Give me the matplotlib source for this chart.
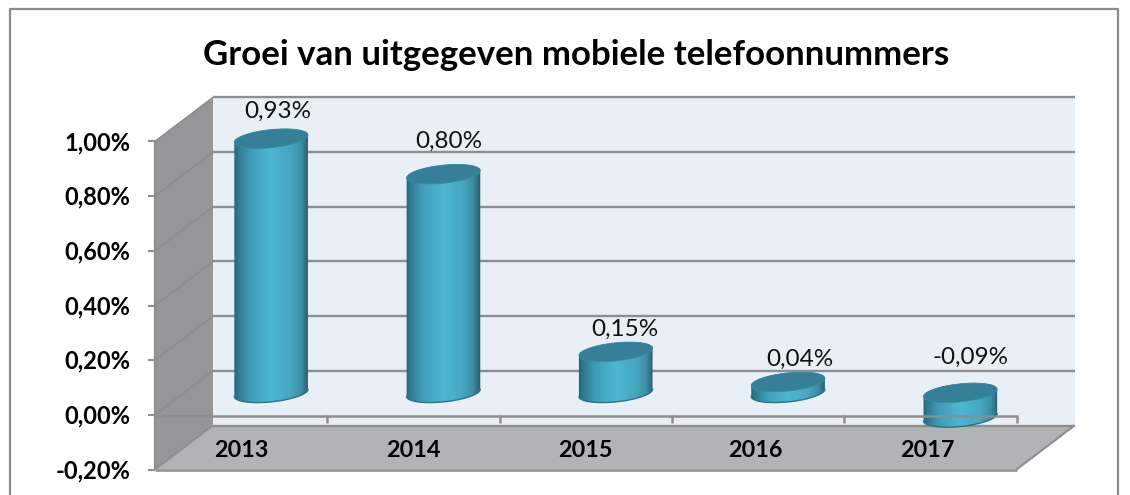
import numpy as np
import matplotlib
matplotlib.use("Agg")
import matplotlib.pyplot as plt
from matplotlib.colors import LinearSegmentedColormap
from matplotlib.patches import PathPatch, Polygon, Rectangle
from matplotlib.path import Path
from matplotlib.transforms import Affine2D, IdentityTransform

TITLE = "Groei van uitgegeven mobiele telefoonnummers"
years = ["2013", "2014", "2015", "2016", "2017"]
values = [0.93, 0.80, 0.15, 0.04, -0.09]
value_labels = ["0,93%", "0,80%", "0,15%", "0,04%", "-0,09%"]
label_lift_px = [27, 33, 22, 23, 35]
label_shift_px = [7, 5.5, 9, 12, 10]
year_shift_px = [0, 0, -0.5, -3, -3.5]
y_ticks = [-0.20, 0.00, 0.20, 0.40, 0.60, 0.80, 1.00]
y_tick_labels = ["-0,20%", "0,00%", "0,20%", "0,40%", "0,60%", "0,80%", "1,00%"]

W, H = 1130, 495
DEPTH_X, DEPTH_Y = 58, 44
LINE = "#8e8e8e"
plt.rcParams["font.family"] = ["Lato", "DejaVu Sans"]

fig = plt.figure(figsize=(W / 100, H / 100), dpi=100, facecolor="white")
L, R, T, B = 155, 1016.5, 141.5, 469.5
ax = fig.add_axes([L / W, 1 - B / H, (R - L) / W, (B - T) / H])
ax.set_xlim(0, len(years))
ax.set_ylim(-0.20, 1.00)
ax.axis("off")


def depth(d, dx=0.0):
    return ax.transData + Affine2D().translate(DEPTH_X * d + dx, DEPTH_Y * d)


n = len(years)
ymin, ymax = y_ticks[0], y_ticks[-1]
kw = dict(clip_on=False, solid_capstyle="butt")

# outer chart frame (open at the bottom edge of the picture)
fig.add_artist(plt.Line2D([9.5 / W, 9.5 / W, 1118 / W, 1118 / W],
                          [0, 1 - 8.5 / H, 1 - 8.5 / H, 0],
                          color="#8c8c8c", lw=1.6))

# walls and floor
ax.add_patch(Rectangle((0, ymin), n, ymax - ymin, transform=depth(1),
                       fc="#e8eff7", ec="none", clip_on=False, zorder=1))
side = [depth(d).transform((0, v)) for d, v in [(0, ymin), (0, ymax), (1, ymax), (1, ymin)]]
ax.add_patch(Polygon(side, transform=IdentityTransform(), fc="#949699", ec="none",
                     clip_on=False, zorder=1.1))
floor = [depth(d).transform((x, ymin)) for d, x in [(0, 0), (0, n), (1, n), (1, 0)]]
ax.add_patch(Polygon(floor, transform=IdentityTransform(), fc="#b1b4b7", ec="none",
                     clip_on=False, zorder=1.1))

# gridlines on back wall and side wall, tick marks
for v in y_ticks:
    ax.plot([0, n], [v, v], transform=depth(1), color=LINE, lw=1.7, zorder=2, **kw)
    a, b = depth(0).transform((0, v)), depth(1).transform((0, v))
    ax.plot([a[0], b[0]], [a[1], b[1]], transform=IdentityTransform(), color=LINE,
            lw=1.3, zorder=2, **kw)
    ax.plot([a[0] - 7, a[0]], [a[1], a[1]], transform=IdentityTransform(), color=LINE,
            lw=1.5, zorder=2, **kw)
ax.plot([0, 0], [ymin, ymax], color=LINE, lw=1.6, zorder=2, **kw)
ax.plot([0, n], [ymin, ymin], color=LINE, lw=1.8, zorder=2, **kw)
a, b = depth(0).transform((n, ymin)), depth(1).transform((n, ymin))
ax.plot([a[0], b[0]], [a[1], b[1]], transform=IdentityTransform(), color=LINE, lw=1.5, zorder=2, **kw)

# cylinders
cmap = LinearSegmentedColormap.from_list("cyl", [
    (0.00, "#245f70"), (0.06, "#2f778c"), (0.22, "#3f9cb7"), (0.50, "#4eb7d3"),
    (0.75, "#46a7c2"), (0.90, "#3c8ea6"), (1.00, "#235a69")])
gradient = np.linspace(0, 1, 256)[None, :]
A, Bb, TILT = 37.0, 9.0, np.deg2rad(6)
t0 = np.arctan2(-Bb * np.sin(TILT), A * np.cos(TILT))


def ell(center, t):
    x = A * np.cos(t) * np.cos(TILT) - Bb * np.sin(t) * np.sin(TILT)
    y = A * np.cos(t) * np.sin(TILT) + Bb * np.sin(t) * np.cos(TILT)
    return np.column_stack([center[0] + x, center[1] + y])


half_w = (A + 1) / (R - L) * n
for i, v in enumerate(values):
    xc = i + 0.5
    mid = depth(0.5, dx=1.0)
    top = mid.transform((xc, max(v, 0)))
    bot = mid.transform((xc, min(v, 0)))
    arc_up = np.linspace(t0, t0 + np.pi, 60)
    arc_dn = np.linspace(t0 + np.pi, t0 + 2 * np.pi, 60)
    body = np.vstack([ell(top, arc_up), ell(bot, arc_dn)])
    body_path = Path(np.vstack([body, body[0]]), closed=True)
    clip = PathPatch(body_path, transform=IdentityTransform(), fc="none", ec="none")
    im = ax.imshow(gradient, cmap=cmap, aspect="auto", zorder=3 + i * 0.1,
                   extent=(xc - half_w, xc + half_w, min(v, 0) - 0.1, max(v, 0) + 0.1),
                   transform=mid, interpolation="bilinear")
    im.set_clip_box(fig.bbox)
    im.set_clip_path(clip)
    ax.plot(*ell(bot, arc_dn).T, transform=IdentityTransform(), color="#2a7388",
            lw=1.0, zorder=3.01 + i * 0.1, clip_on=False)
    ax.add_patch(Polygon(ell(top, np.linspace(0, 2 * np.pi, 120)), closed=True,
                         transform=IdentityTransform(), fc="#357f98", ec="#3a8aa3",
                         lw=0.6, zorder=3.02 + i * 0.1, clip_on=False))
    ax.annotate(value_labels[i], xy=top, xycoords="figure pixels",
                xytext=(label_shift_px[i] * 0.72, label_lift_px[i] * 0.72),
                textcoords="offset points", ha="center", va="center",
                fontsize=17.5, color="#111111", zorder=6)

ax.set_xlim(0, n)
ax.set_ylim(ymin, ymax)

# front category axis at zero, over the bars
ax.plot([0, n], [0, 0], color=LINE, lw=1.8, zorder=5, transform=ax.transData
        + Affine2D().translate(0, -1), **kw)
for x in range(1, n + 1):
    ax.plot([x, x], [0, -0.03], color=LINE, lw=1.8, zorder=5, **kw)

# labels
for v, s in zip(y_ticks, y_tick_labels):
    ax.text(-0.142, v - 0.004, s, ha="right", va="center", fontsize=17, fontweight="bold",
            color="black", zorder=6)
for i, s in enumerate(years):
    ax.annotate(s, xy=(i + 0.5, -0.132), xycoords="data",
                xytext=(year_shift_px[i] * 0.72, 0), textcoords="offset points",
                ha="center", va="center", fontsize=16.8, fontweight="bold",
                color="black", zorder=6)
fig.text(576 / W, 1 - 55 / H, TITLE, ha="center", va="center", fontsize=25.1,
         fontweight="bold", color="black")

fig.savefig("out.png", dpi=100, facecolor="white")
